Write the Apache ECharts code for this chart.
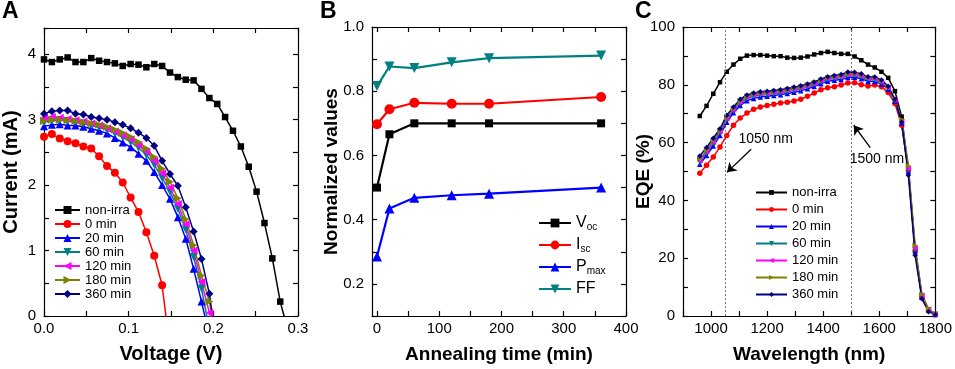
<!DOCTYPE html>
<html>
<head>
<meta charset="utf-8">
<script src="https://cdn.jsdelivr.net/npm/echarts@6/dist/echarts.min.js"></script>
<style>
  html, body { margin: 0; padding: 0; background: #fff; }
  #chart { width: 955px; height: 369px; }
</style>
</head>
<body>
<div id="chart"></div>
<script>
// ---- panel A: I-V curves ----
const voltage = [0, 0.0093, 0.0186, 0.0279, 0.0372, 0.0465, 0.0558, 0.0651, 0.0744, 0.0837,
  0.093, 0.1023, 0.1116, 0.1209, 0.1302, 0.1395, 0.1488, 0.1581, 0.1674, 0.1767,
  0.186, 0.1953, 0.2046, 0.2139, 0.2232, 0.2325, 0.2418, 0.2511, 0.2604, 0.2697, 0.279, 0.2883]
const ivNonIrra = [3.92, 3.88, 3.92, 3.95, 3.88, 3.88, 3.94, 3.90, 3.88, 3.86, 3.82, 3.85, 3.84, 3.80,
  3.85, 3.82, 3.72, 3.65, 3.61, 3.60, 3.47, 3.33, 3.24, 3.04, 2.83, 2.59, 2.28, 1.90, 1.42, 0.88, 0.22, -0.23]
const iv0 = [2.74, 2.78, 2.71, 2.67, 2.64, 2.59, 2.56, 2.44, 2.29, 2.19, 2.04, 1.81, 1.59, 1.28, 0.92, 0.47, -0.5]
const iv20 = [2.90, 2.92, 2.93, 2.91, 2.91, 2.89, 2.86, 2.83, 2.79, 2.72, 2.65, 2.58, 2.48, 2.37, 2.20,
  2.00, 1.79, 1.51, 1.18, 0.72, 0.22, -0.29]
const iv60 = [2.96, 2.98, 2.99, 2.98, 2.96, 2.94, 2.91, 2.88, 2.84, 2.79, 2.73, 2.66, 2.57, 2.46, 2.31,
  2.11, 1.90, 1.64, 1.32, 0.90, 0.42, -0.20]
const iv120 = [3.03, 3.04, 3.03, 3.01, 2.99, 2.97, 2.94, 2.91, 2.87, 2.82, 2.76, 2.70, 2.61, 2.51, 2.37,
  2.18, 1.96, 1.71, 1.40, 1.00, 0.52, 0.05, -0.6]
const iv180 = [2.98, 3.00, 3.00, 2.99, 2.98, 2.96, 2.94, 2.92, 2.89, 2.85, 2.80, 2.74, 2.66, 2.56, 2.43,
  2.25, 2.05, 1.80, 1.48, 1.08, 0.62, 0.22, -0.5]
const iv360 = [3.09, 3.13, 3.14, 3.14, 3.09, 3.08, 3.04, 3.02, 3.00, 2.96, 2.92, 2.87, 2.80, 2.72, 2.60,
  2.37, 2.17, 1.99, 1.66, 1.29, 0.87, 0.34, -0.51]

// ---- panel B: normalized parameters vs annealing time ----
const annealTime = [0, 20, 60, 120, 180, 360]
const voc = [0.500, 0.666, 0.700, 0.700, 0.700, 0.700]
const isc = [0.697, 0.744, 0.764, 0.761, 0.761, 0.782]
const pmax = [0.285, 0.435, 0.468, 0.476, 0.481, 0.500]
const ff = [0.816, 0.877, 0.872, 0.890, 0.903, 0.911]

// ---- panel C: EQE spectra ----
const wavelength = [960, 984, 1008, 1032, 1056, 1080, 1104, 1128, 1152, 1176, 1200, 1224, 1248, 1272,
  1296, 1320, 1344, 1368, 1392, 1416, 1440, 1464, 1488, 1512, 1536, 1560, 1584, 1608, 1632, 1656,
  1680, 1704, 1728, 1752, 1776, 1800]
const eqeNonIrra = [69.2, 72.7, 76.9, 80.9, 84.5, 87.0, 89.0, 90.1, 90.3, 90.3, 90.1, 89.9, 89.9, 89.4,
  89.3, 89.4, 89.8, 90.5, 91.0, 91.4, 91.0, 90.7, 90.7, 89.8, 88.5, 87.0, 86.0, 84.5, 82.4, 77.8,
  69.0, 50.5, 23.0, 7.0, 2.0, 0.5]
const eqe0 = [49.4, 52.2, 55.0, 58.5, 62.5, 66.0, 68.5, 70.2, 71.5, 72.3, 72.8, 73.3, 73.7, 74.0,
  74.4, 75.0, 76.0, 77.2, 78.3, 79.0, 79.3, 79.9, 80.6, 80.7, 80.0, 79.6, 79.9, 79.3, 77.3, 73.5,
  66.0, 50.5, 22.5, 6.5, 2.0, 0.5]
const eqe20 = [52.5, 55.5, 58.8, 62.5, 67.0, 70.3, 72.8, 74.5, 75.3, 75.8, 76.0, 76.3, 76.6, 77.0,
  77.4, 77.9, 78.6, 79.4, 80.4, 81.2, 81.6, 81.8, 82.5, 82.6, 82.1, 81.2, 81.1, 80.3, 78.5, 74.3,
  66.8, 50.0, 22.5, 6.5, 2.0, 0.5]
const eqe60 = [53.2, 56.3, 59.6, 63.3, 67.8, 70.9, 73.5, 75.2, 76.0, 76.4, 76.6, 76.9, 77.2, 77.6,
  78.0, 78.5, 79.2, 80.0, 81.0, 81.8, 82.2, 82.4, 83.1, 83.2, 82.7, 81.8, 81.7, 80.7, 78.8, 74.5,
  67.0, 50.5, 23.0, 7.0, 2.2, 0.6]
const eqe120 = [53.8, 56.9, 60.2, 63.8, 68.3, 71.4, 74.0, 75.7, 76.5, 76.9, 77.1, 77.4, 77.7, 78.1,
  78.5, 79.0, 79.7, 80.4, 81.4, 82.2, 82.6, 82.8, 83.5, 83.6, 83.1, 82.2, 82.1, 81.0, 79.0, 74.7,
  67.3, 51.0, 23.5, 7.2, 2.3, 0.6]
const eqe180 = [54.3, 57.4, 60.7, 64.2, 68.8, 71.8, 74.4, 76.0, 76.8, 77.2, 77.4, 77.7, 78.0, 78.4,
  78.8, 79.3, 80.0, 80.7, 81.7, 82.5, 82.9, 83.1, 83.8, 83.9, 83.4, 82.5, 82.4, 81.3, 79.3, 75.0,
  68.0, 52.0, 24.5, 7.5, 2.5, 0.7]
const eqe360 = [55.4, 58.3, 61.5, 64.8, 69.5, 72.3, 75.0, 76.5, 77.2, 77.6, 77.8, 78.0, 78.3, 78.7,
  79.2, 79.7, 80.3, 81.0, 82.0, 82.8, 83.2, 83.6, 84.4, 84.3, 83.8, 82.8, 82.7, 81.7, 79.5, 75.0,
  67.0, 48.7, 21.0, 6.0, 1.5, 0.5]
const markWavelengths = [1050, 1500]

const names = ['non-irra', '0 min', '20 min', '60 min', '120 min', '180 min', '360 min']
const colors = ['#000000', '#ff0000', '#0000ff', '#008080', '#ff00ff', '#808000', '#000080']
const symbols = ['rect', 'circle', 'triangle', 'triangle', 'triangle', 'triangle', 'diamond']
const rotations = [0, 0, 0, 180, 90, -90, 0]

const FONT = 'Liberation Sans, Arial, sans-serif'
const axisLine = { show: true, onZero: false, lineStyle: { color: '#000', width: 1.2 } }
const axisTick = { show: true, inside: true, length: 5, lineStyle: { color: '#000', width: 1.2 } }
const axisLabel = { color: '#000', fontSize: 15, fontFamily: FONT }
const nameStyle = { color: '#000', fontSize: 19, fontWeight: 'bold', fontFamily: FONT }

// bottom/left axis with labels + top/right mirror axis with ticks only
function axisPair(gridIndex, isX, opts, label) {
  const base = Object.assign({
    type: 'value', gridIndex: gridIndex,
    axisLine: axisLine, splitLine: { show: false }
  }, opts)
  const main = Object.assign({}, base, {
    position: isX ? 'bottom' : 'left',
    nameMoveOverlap: false,
    axisTick: Object.assign({}, axisTick, opts.tickValues ? { customValues: opts.tickValues } : {}),
    axisLabel: Object.assign({}, axisLabel, label),
    nameTextStyle: Object.assign({}, nameStyle, opts.nameSize ? { fontSize: opts.nameSize } : {})
  })
  const mirror = Object.assign({}, base, {
    position: isX ? 'top' : 'right',
    name: '',
    axisTick: Object.assign({}, axisTick, opts.tickValues ? { customValues: opts.tickValues } : {}),
    axisLabel: { show: false }
  })
  return [main, mirror]
}

const xAxes = [].concat(
  axisPair(0, true, { min: 0, max: 0.3, interval: 0.05, name: 'Voltage (V)', nameLocation: 'middle', nameGap: 28, nameSize: 20 },
    { margin: 5, formatter: v => (Math.round(v * 100) % 10 === 0 ? v.toFixed(1) : '') }),
  axisPair(1, true, { min: -8, max: 400, tickValues: [0, 50, 100, 150, 200, 250, 300, 350, 400],
    name: 'Annealing time (min)', nameLocation: 'middle', nameGap: 29 },
    { margin: 5, customValues: [0, 100, 200, 300, 400] }),
  axisPair(2, true, { min: 900, max: 1800, interval: 100, name: 'Wavelength (nm)', nameLocation: 'middle', nameGap: 29 },
    { margin: 5, formatter: v => (v % 200 === 0 ? String(v) : '') })
)
const yAxes = [].concat(
  axisPair(0, false, { min: 0, max: 4.4, interval: 0.5, name: 'Current (mA)', nameLocation: 'middle', nameGap: 23, nameSize: 20 },
    { margin: 8, formatter: v => (Number.isInteger(v) ? String(v) : '') }),
  axisPair(1, false, { min: 0.1, max: 1.0, interval: 0.1, name: 'Normalized values', nameLocation: 'middle', nameGap: 31 },
    { margin: 8, formatter: v => (Math.round(v * 10) % 2 === 0 ? v.toFixed(1) : '') }),
  axisPair(2, false, { min: 0, max: 100, interval: 10, name: 'EQE (%)', nameLocation: 'middle', nameGap: 30 },
    { margin: 8, formatter: v => (v % 20 === 0 ? String(v) : '') })
)

function pairs(xs, ys) {
  return ys.map((y, i) => [xs[i], y])
}

const ivData = [ivNonIrra, iv0, iv20, iv60, iv120, iv180, iv360]
const eqeData = [eqeNonIrra, eqe0, eqe20, eqe60, eqe120, eqe180, eqe360]

const ivSeries = ivData.map((d, i) => ({
  name: names[i], type: 'line', xAxisIndex: 0, yAxisIndex: 0,
  data: pairs(voltage, d), clip: true,
  symbol: symbols[i], symbolRotate: rotations[i], symbolSize: symbols[i] === 'rect' ? 6.5 : 8,
  lineStyle: { color: colors[i], width: 1.5 }, itemStyle: { color: colors[i] }
}))

const eqeSeries = eqeData.map((d, i) => ({
  name: names[i], type: 'line', xAxisIndex: 4, yAxisIndex: 4,
  data: pairs(wavelength, d), clip: true,
  symbol: symbols[i], symbolRotate: rotations[i], symbolSize: symbols[i] === 'rect' ? 4.5 : 5.5,
  lineStyle: { color: colors[i], width: 1.5 }, itemStyle: { color: colors[i] }
}))

const paramNames = ['Voc', 'Isc', 'Pmax', 'FF']
const paramData = [voc, isc, pmax, ff]
const paramColors = ['#000000', '#ff0000', '#0000ff', '#008080']
const paramSymbols = ['rect', 'circle', 'triangle', 'triangle']
const paramRot = [0, 0, 0, 180]
const paramSeries = paramData.map((d, i) => ({
  name: paramNames[i], type: 'line', xAxisIndex: 2, yAxisIndex: 2,
  data: pairs(annealTime, d),
  symbol: paramSymbols[i], symbolRotate: paramRot[i], symbolSize: paramSymbols[i] === 'rect' ? 8 : 10,
  lineStyle: { color: paramColors[i], width: 2.2 }, itemStyle: { color: paramColors[i] }
}))

const arrowStyle = { color: '#000', type: 'solid', width: 1.3 }
const annotSeries = {
  name: 'annot', type: 'line', xAxisIndex: 4, yAxisIndex: 4, data: [], silent: true,
  markLine: {
    silent: true, animation: false,
    label: { show: false },
    symbol: ['none', 'none'],
    data: [
      { xAxis: markWavelengths[0], lineStyle: { color: '#777', type: [2, 2], width: 1 } },
      { xAxis: markWavelengths[1], lineStyle: { color: '#777', type: [2, 2], width: 1 } },
      [{ coord: [1143, 57.7], symbol: 'none', lineStyle: arrowStyle },
        { coord: [1057, 49.7], symbol: 'arrow', symbolSize: 9 }],
      [{ coord: [1568, 58.3], symbol: 'none', lineStyle: arrowStyle },
        { coord: [1509, 66.0], symbol: 'arrow', symbolSize: 9 }]
    ]
  },
  markPoint: {
    silent: true, animation: false, symbol: 'circle', symbolSize: 0,
    label: { show: true, position: 'inside', color: '#000', fontSize: 14, fontFamily: FONT, formatter: p => p.name },
    data: [{ name: '1050 nm', coord: [1195, 61.2] }, { name: '1500 nm', coord: [1592, 54.3] }]
  }
}

const legendText = { color: '#000', fontSize: 13, fontFamily: FONT }
const letterStyle = { fontSize: 23, fontWeight: 'bold', fontFamily: FONT, color: '#000' }

const option = {
  animation: false,
  backgroundColor: '#fff',
  title: [
    { text: 'A', left: 2, top: 0, padding: 0, textStyle: letterStyle },
    { text: 'B', left: 320, top: 0, padding: 0, textStyle: letterStyle },
    { text: 'C', left: 635, top: 0, padding: 0, textStyle: letterStyle }
  ],
  grid: [
    { left: 43, top: 28, width: 255, height: 290 },
    { left: 372, top: 27, width: 254, height: 291 },
    { left: 683, top: 27, width: 255, height: 291 }
  ],
  xAxis: xAxes,
  yAxis: yAxes,
  legend: [
    {
      data: names, orient: 'vertical', left: 54, top: 203, padding: 0, itemGap: 0,
      itemWidth: 25, itemHeight: 10, textStyle: Object.assign({ lineHeight: 14 }, legendText)
    },
    {
      data: paramNames, orient: 'vertical', left: 538, top: 212, padding: 0, itemGap: 0,
      itemWidth: 32, itemHeight: 11,
      formatter: n => n === 'FF' ? '{m|FF}' : '{m|' + n[0] + '}{s|' + n.slice(1) + '}',
      textStyle: {
        color: '#000', fontFamily: FONT, lineHeight: 22,
        rich: {
          m: { fontSize: 16, fontFamily: FONT, color: '#000', lineHeight: 22 },
          s: { fontSize: 10, fontFamily: FONT, color: '#000', lineHeight: 22, padding: [9, 0, 0, 0] }
        }
      }
    },
    {
      data: names, orient: 'vertical', left: 755, top: 184, padding: 0, itemGap: 0,
      itemWidth: 31, itemHeight: 6, textStyle: Object.assign({ lineHeight: 17 }, legendText)
    }
  ],
  series: ivSeries.concat(paramSeries, eqeSeries, [annotSeries])
}

const chart = echarts.init(document.getElementById('chart'), null, { renderer: 'canvas' })
chart.setOption(option)
</script>
</body>
</html>
